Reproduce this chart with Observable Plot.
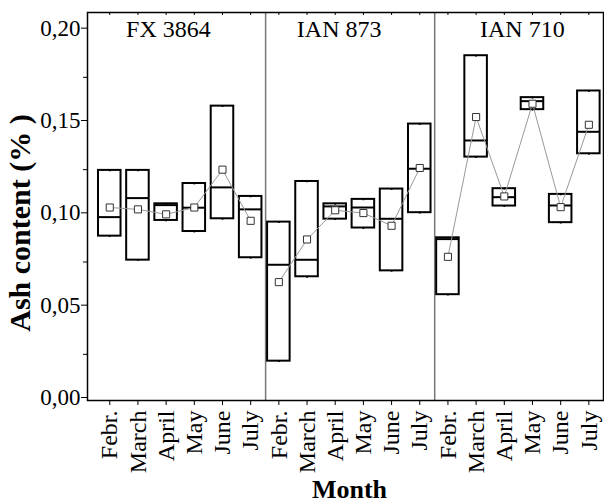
<!DOCTYPE html>
<html>
<head>
<meta charset="utf-8">
<script src="https://cdn.jsdelivr.net/npm/d3@7"></script>
<script src="https://cdn.jsdelivr.net/npm/@observablehq/plot@0.6"></script>
<style>
  body { margin: 0; background: #fff; }
  #chart svg { display: block; }
</style>
</head>
<body>
<div id="chart"></div>
<script>
// Ash content of three rubber-tree clones, sampled monthly (Feb.–July)
const clones = ["FX 3864", "IAN 873", "IAN 710"];
const months = ["Febr.", "March", "April", "May", "June", "July"];

// Box limits (upper and lower), median and mean, in clone order, six months each
const boxHigh = [
  0.1246, 0.1246, 0.1065, 0.1175, 0.1594, 0.1105,
  0.0966, 0.1186, 0.1065, 0.1089, 0.1145, 0.1497,
  0.0881, 0.1867, 0.1147, 0.1640, 0.1116, 0.1676
];
const boxLow = [
  0.0890, 0.0760, 0.0975, 0.0915, 0.0984, 0.0773,
  0.0213, 0.0670, 0.0982, 0.0934, 0.0702, 0.1017,
  0.0573, 0.1318, 0.1053, 0.1575, 0.0963, 0.1336
];
const medians = [
  0.0993, 0.1096, 0.1058, 0.1044, 0.1154, 0.1035,
  0.0735, 0.0762, 0.1051, 0.1045, 0.0984, 0.1255,
  0.0874, 0.1408, 0.1101, 0.1621, 0.1056, 0.1455
];
const means = [
  0.1045, 0.1035, 0.1008, 0.1045, 0.1250, 0.0973,
  0.0641, 0.0872, 0.1030, 0.1015, 0.0946, 0.1259,
  0.0778, 0.1535, 0.1105, 0.1607, 0.1047, 0.1493
];
const yTicks = [0, 0.05, 0.10, 0.15, 0.20];
const yMinorTicks = [0.025, 0.075, 0.125, 0.175];

const perGroup = months.length;
const rows = boxHigh.map((high, i) => ({
  pos: i + 1,
  clone: clones[Math.floor(i / perGroup)],
  month: months[i % perGroup],
  high,
  low: boxLow[i],
  median: medians[i],
  mean: means[i]
}));
const positions = rows.map(d => d.pos);
const half = 0.4; // half box width, in month steps
const commaFmt = v => d3.format(".2f")(v).replace(".", ",");
const serif = "'Liberation Serif', 'Times New Roman', serif";

const chart = Plot.plot({
  width: 604,
  height: 504,
  marginLeft: 87,
  marginRight: 1,
  marginTop: 12,
  marginBottom: 104,
  style: { fontFamily: serif, background: "white", color: "black" },
  x: { type: "linear", domain: [0.21, 18.52] },
  y: { domain: [0, 0.2101] },
  marks: [
    // separators between clones
    Plot.ruleX(clones.slice(1), {
      x: (d, i) => (i + 1) * perGroup + 0.53,
      stroke: "#777",
      strokeWidth: 1.5
    }),
    // min–max boxes
    Plot.rect(rows, {
      x1: d => d.pos - half,
      x2: d => d.pos + half,
      y1: "low",
      y2: "high",
      fill: "white",
      stroke: "black",
      strokeWidth: 2
    }),
    // small caps at the box ends
    Plot.dot(rows, { x: "pos", y: "high", symbol: "square", r: 1, fill: "black" }),
    Plot.dot(rows, { x: "pos", y: "low", symbol: "square", r: 1, fill: "black" }),
    // medians
    Plot.ruleY(rows, {
      y: "median",
      x1: d => d.pos - half,
      x2: d => d.pos + half,
      stroke: "black",
      strokeWidth: 2
    }),
    // means joined within each clone
    Plot.line(rows, { x: "pos", y: "mean", z: "clone", stroke: "#999", strokeWidth: 1 }),
    Plot.dot(rows, {
      x: "pos",
      y: "mean",
      symbol: "square",
      r: 4,
      fill: "white",
      stroke: "#333",
      strokeWidth: 1
    }),
    // clone names
    Plot.text(clones, {
      x: (d, i) => i * perGroup + [3.08, 3.14, 3.64][i],
      text: d => d,
      frameAnchor: "top",
      lineAnchor: "bottom",
      dy: 24.7,
      fontSize: 24,
      letterSpacing: -0.5
    }),
    // axes
    Plot.axisY({
      ticks: yTicks,
      tickFormat: commaFmt,
      tickSize: 6,
      tickPadding: 1,
      fontSize: 23,
      dy: -3,
      label: null
    }),
    Plot.axisY({ ticks: yMinorTicks, tickSize: 4, fill: "none", label: null }),
    Plot.axisX({
      ticks: positions,
      tickFormat: p => months[(p - 1) % perGroup],
      tickRotate: -90,
      tickSize: 5,
      tickPadding: 5,
      fontSize: 24,
      label: null
    }),
    Plot.tickX(positions, { x: d => d, insetBottom: 385, stroke: "black" }),
    Plot.frame({ stroke: "black", strokeWidth: 1.5 }),
    // axis titles
    Plot.text(["Ash content (% )"], {
      frameAnchor: "left",
      rotate: -90,
      lineAnchor: "bottom",
      textAnchor: "middle",
      dx: -58,
      dy: 16.5,
      fontSize: 30,
      fontWeight: "bold",
      letterSpacing: -0.5
    }),
    Plot.text(["Month"], {
      frameAnchor: "bottom",
      lineAnchor: "bottom",
      dx: 4,
      dy: 97,
      fontSize: 26,
      fontWeight: "bold",
      letterSpacing: -0.8
    })
  ]
});

document.getElementById("chart").append(chart);
</script>
</body>
</html>
